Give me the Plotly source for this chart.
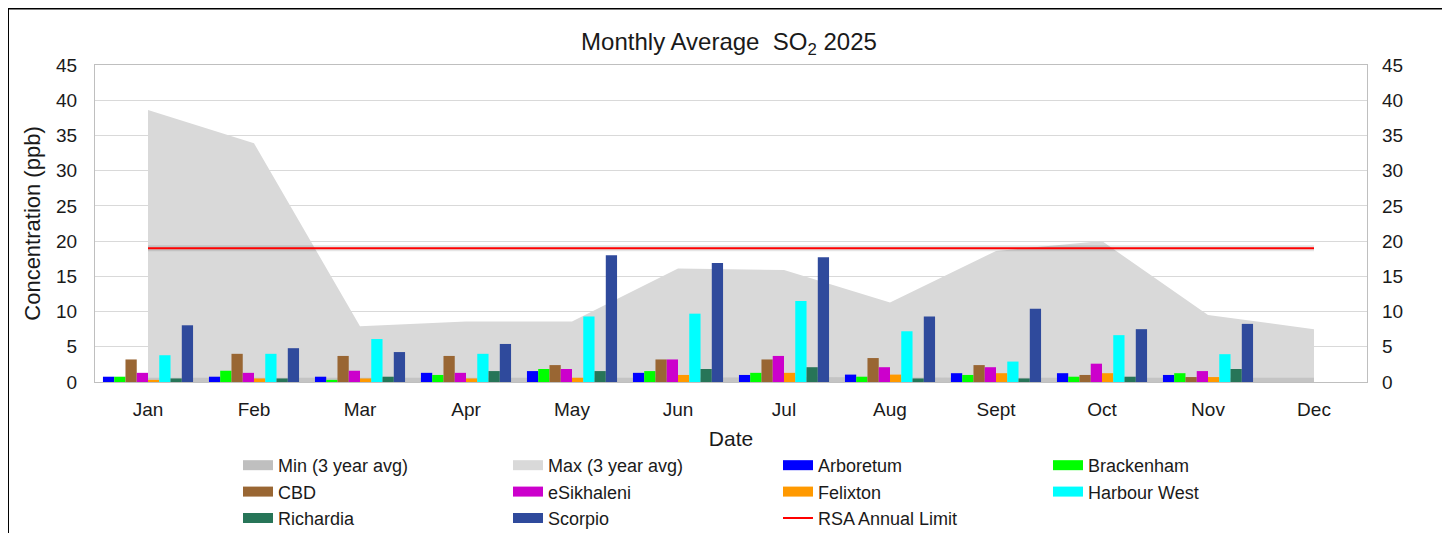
import plotly.graph_objects as go

months = ["Jan", "Feb", "Mar", "Apr", "May", "Jun", "Jul", "Aug", "Sept", "Oct", "Nov", "Dec"]

min_3yr = [0.6, 0.6, 0.5, 0.5, 0.6, 0.6, 0.7, 0.6, 0.6, 0.6, 0.6, 0.6]
max_3yr = [38.6, 33.9, 7.9, 8.6, 8.6, 16.1, 15.9, 11.3, 18.6, 20.0, 9.5, 7.5]

arboretum    = [0.75, 0.75, 0.75, 1.3, 1.55, 1.3, 1.0, 1.05, 1.25, 1.25, 1.0, None]
brackenham   = [0.75, 1.6, 0.3, 1.0, 1.85, 1.55, 1.3, 0.75, 1.0, 0.75, 1.25, None]
cbd          = [3.2, 4.0, 3.7, 3.7, 2.4, 3.2, 3.2, 3.4, 2.4, 1.0, 0.7, None]
esikhaleni   = [1.3, 1.3, 1.6, 1.3, 1.85, 3.2, 3.7, 2.1, 2.1, 2.6, 1.55, None]
felixton     = [0.3, 0.5, 0.5, 0.5, 0.6, 1.0, 1.3, 1.05, 1.25, 1.25, 0.7, None]
harbour_west = [3.8, 4.0, 6.1, 4.0, 9.3, 9.7, 11.5, 7.2, 2.9, 6.65, 3.95, None]
richardia    = [0.5, 0.5, 0.75, 1.55, 1.55, 1.85, 2.1, 0.5, 0.5, 0.75, 1.85, None]
scorpio      = [8.05, 4.8, 4.25, 5.4, 18.0, 16.9, 17.7, 9.3, 10.4, 7.5, 8.25, None]

rsa_limit = [19] * 12

stations = [
    ("Arboretum", arboretum, "#0000FF"),
    ("Brackenham", brackenham, "#00FF00"),
    ("CBD", cbd, "#996633"),
    ("eSikhaleni", esikhaleni, "#CC00CC"),
    ("Felixton", felixton, "#FF9900"),
    ("Harbour West", harbour_west, "#00FFFF"),
    ("Richardia", richardia, "#277558"),
    ("Scorpio", scorpio, "#2F4A9C"),
]

FONT = "Liberation Sans, Arial, sans-serif"
TXT = "#1a1a1a"

fig = go.Figure()

# Areas on base axes (drawn below)
fig.add_trace(go.Scatter(x=months, y=max_3yr, mode="lines", fill="tozeroy",
                         fillcolor="#D9D9D9", line=dict(width=0, color="#D9D9D9"),
                         showlegend=False, xaxis="x", yaxis="y"))
fig.add_trace(go.Scatter(x=months, y=min_3yr, mode="lines", fill="tozeroy",
                         fillcolor="#C4C4C4", line=dict(width=0, color="#C4C4C4"),
                         showlegend=False, xaxis="x", yaxis="y"))

# Bars on overlaying axis (drawn above the areas)
for name, vals, col in stations:
    fig.add_trace(go.Bar(x=months, y=vals, name=name, marker=dict(color=col, line=dict(width=0)),
                         showlegend=False, xaxis="x", yaxis="y2"))

fig.add_trace(go.Scatter(x=months, y=rsa_limit, mode="lines",
                         line=dict(color="rgba(0,0,0,0.10)", width=6),
                         showlegend=False, hoverinfo="skip", xaxis="x", yaxis="y2"))
fig.add_trace(go.Scatter(x=months, y=rsa_limit, mode="lines",
                         line=dict(color="#FF0000", width=2),
                         showlegend=False, xaxis="x", yaxis="y2"))

# Legend entries
legend_items = [("Min (3 year avg)", "#BFBFBF", 10), ("Max (3 year avg)", "#D9D9D9", 10)]
legend_items += [(n, c, 10) for n, _, c in stations]
legend_items += [("RSA Annual Limit", "#FF0000", 2)]
for name, col, w in legend_items:
    fig.add_trace(go.Scatter(x=[None], y=[None], mode="lines", name=name,
                             line=dict(color=col, width=w), xaxis="x", yaxis="y"))

fig.update_layout(
    width=1442, height=545,
    margin=dict(l=87, r=83, t=57, b=171),
    paper_bgcolor="white", plot_bgcolor="white",
    font=dict(family=FONT, color=TXT, size=18),
    title=dict(text="Monthly Average \u00a0SO<sub>2</sub> 2025", x=0.5, xanchor="center",
               y=1 - 34 / 545, yanchor="middle", font=dict(size=24, color=TXT)),
    barmode="group", bargap=0.15, bargroupgap=0,
    showlegend=True,
    legend=dict(orientation="h", x=0.1124, xanchor="left", y=-0.205, yanchor="top",
                entrywidth=225, traceorder="normal", font=dict(size=18, color=TXT),
                bgcolor="rgba(0,0,0,0)", tracegroupgap=0),
    xaxis=dict(type="category", range=[-0.5, 11.5], showgrid=False,
               showline=True, linecolor="#BFBFBF", mirror=True, linewidth=1,
               ticks="", ticklabelstandoff=10, tickfont=dict(size=19),
               title=dict(text="Date", font=dict(size=21), standoff=12)),
    yaxis=dict(range=[0, 45], dtick=5, showgrid=True, gridcolor="#D9D9D9", gridwidth=1,
               showline=True, linecolor="#BFBFBF", mirror=True, zeroline=False,
               ticks="", ticklabelstandoff=13, tickfont=dict(size=19),
               title=dict(text="Concentration (ppb)", font=dict(size=22), standoff=9)),
    yaxis2=dict(range=[0, 45], dtick=5, overlaying="y", side="right", showgrid=False,
                zeroline=False, showline=False, ticks="", ticklabelstandoff=14,
                tickfont=dict(size=19)),
    shapes=[dict(type="rect", xref="paper", yref="paper",
                 x0=-0.0684, x1=1.0621, y0=-0.6, y1=1.178,
                 line=dict(color="black", width=2), fillcolor="rgba(0,0,0,0)", layer="above")],
)

fig.write_html("out.html")
